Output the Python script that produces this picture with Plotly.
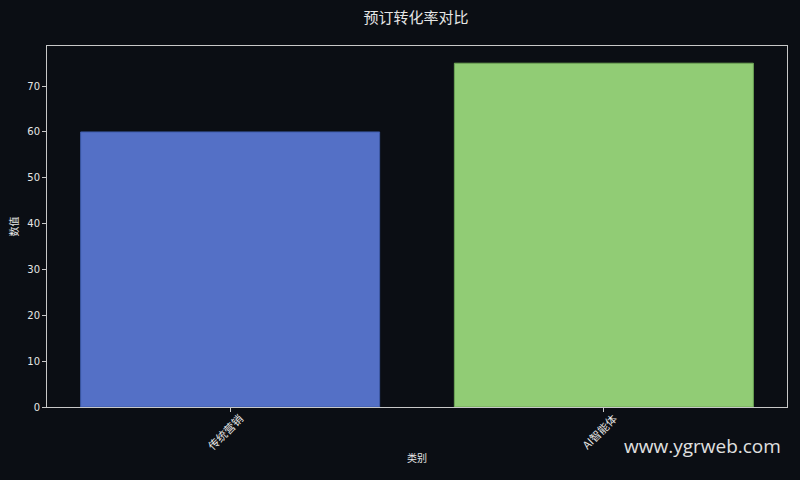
import plotly.graph_objects as go

# 数据
categories = ['传统营销', 'AI智能体']
values = [60, 75]
bar_colors = ['#5470c6', '#91cc75']
edge_colors = ['#3d5aa8', '#6ea656']
y_ticks = [0, 10, 20, 30, 40, 50, 60, 70]

bg = '#0b0e14'
spine = '#c8c8c8'
txt = '#e6e6e6'
cjk = 'Noto Sans CJK SC'

fig = go.Figure()
fig.add_trace(go.Bar(
    x=[0, 1],
    y=values,
    width=0.8,
    marker=dict(color=bar_colors, line=dict(color=edge_colors, width=1)),
    hoverinfo='skip',
))

fig.update_layout(
    width=800,
    height=480,
    autosize=False,
    paper_bgcolor=bg,
    plot_bgcolor=bg,
    showlegend=False,
    margin=dict(l=47, r=13, t=46, b=73),
    title=dict(text='预订转化率对比', x=0.52, xanchor='center', y=0.962, yanchor='middle',
               font=dict(family=cjk, size=15, color=txt)),
    font=dict(family='DejaVu Sans, sans-serif', size=10, color=txt),
)

fig.update_xaxes(
    range=[-0.49, 1.49],
    tickmode='array',
    tickvals=[0, 1],
    ticktext=categories,
    tickangle=-45,
    tickfont=dict(family=cjk, size=11, color=txt),
    ticklabelshift=10, ticklabelstandoff=-4,
    ticks='outside', ticklen=4, tickcolor=spine,
    showgrid=False, zeroline=False, automargin=False,
    showline=True, linecolor=spine, linewidth=1, mirror=True,
    title=dict(text='类别', font=dict(family=cjk, size=10, color=txt), standoff=3),
)
fig.update_yaxes(
    range=[0, 78.75],
    tickmode='array',
    tickvals=y_ticks,
    ticks='outside', ticklen=4, tickcolor=spine,
    tickfont=dict(size=10, color=txt),
    showgrid=False, zeroline=False, automargin=False,
    showline=True, linecolor=spine, linewidth=1, mirror=True,
    title=dict(text='数值', font=dict(family=cjk, size=10, color=txt), standoff=6),
)

# 水印
fig.add_annotation(
    text='www.ygrweb.com', xref='paper', yref='paper',
    x=0.995, y=-0.108, xanchor='right', yanchor='middle',
    showarrow=False,
    font=dict(family='Open Sans', size=19, color='#e0e0e0'),
)

# 去掉页面默认边距，让图贴齐窗口
fig.write_html('out.html', config={'displayModeBar': False},
               post_script="document.body.style.margin='0';")
